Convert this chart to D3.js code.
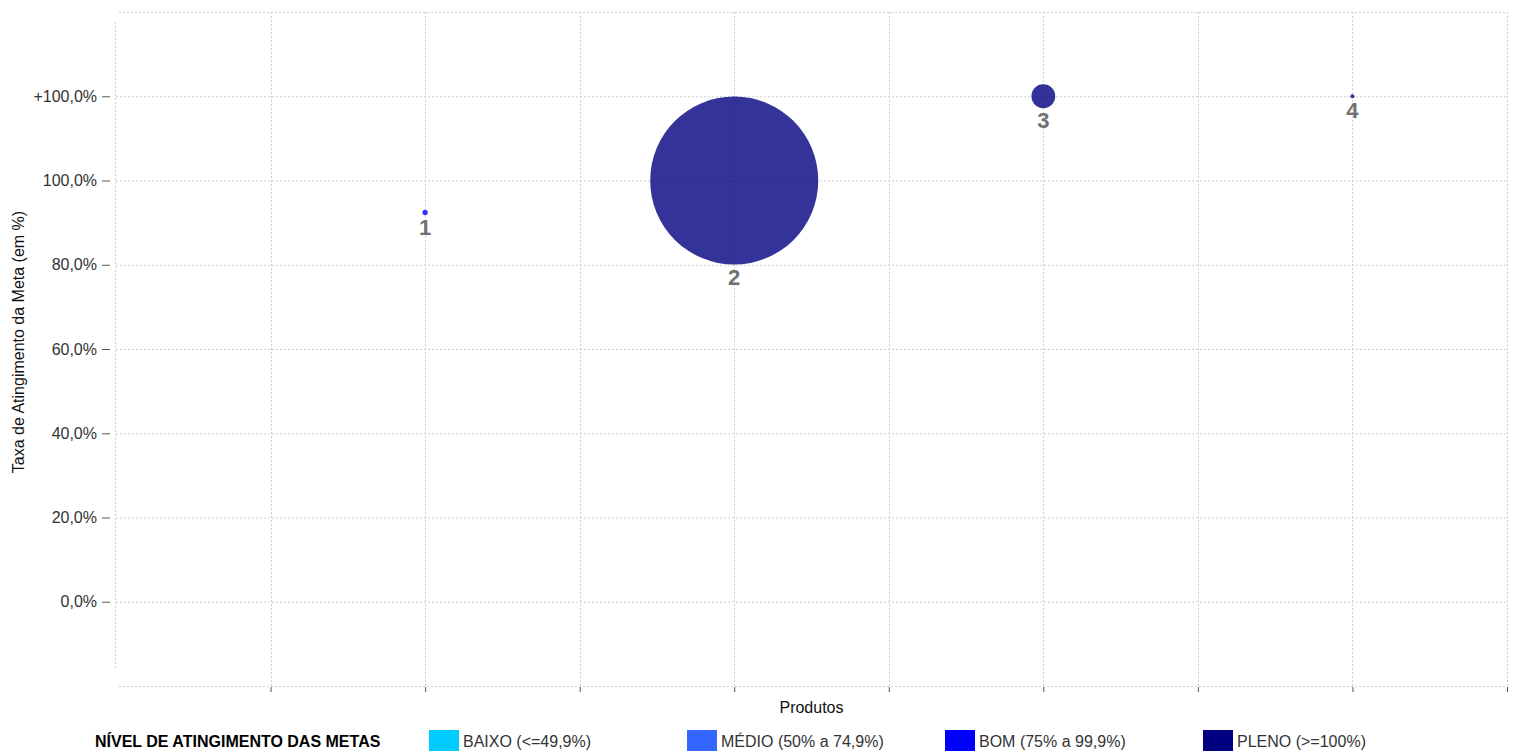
<!DOCTYPE html>
<html><head><meta charset="utf-8">
<script src="https://cdn.jsdelivr.net/npm/d3@7"></script>
<style>
html,body{margin:0;padding:0;background:#fff;}
svg{display:block;font-family:"Liberation Sans",Arial,sans-serif;}
</style></head>
<body>
<script>
// ---- data ----
const products = ["1", "2", "3", "4"];
const productPos = [1, 2, 3, 4];
// rate as plotted (values above 100% are shown on the "+100,0%" line)
const rates = [92.4, 100, 120, 120];
const sizes = [0.1, 100, 2, 0.06];
const yTicks = [0, 20, 40, 60, 80, 100, 120];
const yTickLabels = ["0,0%", "20,0%", "40,0%", "60,0%", "80,0%", "100,0%", "+100,0%"];
const xGrid = [0.5, 1, 1.5, 2, 2.5, 3, 3.5, 4, 4.5];
const levelNames = ["BAIXO (<=49,9%)", "MÉDIO (50% a 74,9%)", "BOM (75% a 99,9%)", "PLENO (>=100%)"];
const levelColors = ["#00ccff", "#3366ff", "#0000ff", "#000080"];
const levelThresholds = [50, 75, 100];

const W = 1518, H = 751;
const m = {left: 116, right: 11, top: 12, bottom: 65};
const svg = d3.select("body").append("svg").attr("width", W).attr("height", H);

const x = d3.scaleLinear().domain([0, 4.5]).range([m.left, W - m.right]);
const y = d3.scaleLinear().domain([-20, 140]).range([H - m.bottom, m.top]);
const r = d3.scaleSqrt().domain([0, d3.max(sizes)]).range([0, 84]);
const level = d3.scaleThreshold().domain(levelThresholds).range(levelColors);

const gridColor = "#cfcfcf";
const dash = "2,2";

// horizontal grid
const hLines = [-20].concat(yTicks, [140]);
svg.append("g").selectAll("line").data(hLines).join("line")
  .attr("x1", d => (d === 140 || d === -20) ? m.left + 3 : m.left).attr("x2", W - m.right)
  .attr("y1", d => y(d) + 0.5).attr("y2", d => y(d) + 0.5)
  .attr("stroke", gridColor).attr("stroke-dasharray", dash);

// vertical grid
svg.append("g").selectAll("line").data(xGrid).join("line")
  .attr("x1", d => Math.round(x(d)) + 0.5).attr("x2", d => Math.round(x(d)) + 0.5)
  .attr("y1", y(140)).attr("y2", y(-20))
  .attr("stroke", gridColor).attr("stroke-dasharray", dash);

// y axis line (dotted)
svg.append("line")
  .attr("x1", m.left - 0.5).attr("x2", m.left - 0.5)
  .attr("y1", y(140) + 10).attr("y2", y(-20) - 16)
  .attr("stroke", gridColor).attr("stroke-dasharray", dash);

// y ticks
const yAxis = d3.axisLeft(y).tickValues(yTicks)
  .tickFormat((d, i) => yTickLabels[i]).tickSize(8).tickPadding(5);
const gy = svg.append("g").attr("transform", `translate(${m.left - 6},0)`).call(yAxis);
gy.select(".domain").remove();
gy.selectAll(".tick line").attr("stroke", "#555");
gy.selectAll(".tick text").attr("fill", "#333").style("font-size", "16px")
  .style("font-family", "'Liberation Sans',Arial,sans-serif");

// x ticks
const xAxis = d3.axisBottom(x).tickValues(xGrid).tickFormat("").tickSize(5);
const gx = svg.append("g").attr("transform", `translate(0,${y(-20) + 1})`).call(xAxis);
gx.select(".domain").remove();
gx.selectAll(".tick line").attr("stroke", "#555");

// axis titles
svg.append("text")
  .attr("transform", `translate(24,342) rotate(-90)`)
  .attr("text-anchor", "middle").attr("fill", "#111").style("font-size", "16px")
  .text("Taxa de Atingimento da Meta (em %)");
svg.append("text")
  .attr("x", (m.left + W - m.right) / 2).attr("y", 713)
  .attr("text-anchor", "middle").attr("fill", "#111").style("font-size", "16px")
  .text("Produtos");

// bubbles
const data = products.map((p, i) => ({name: p, x: productPos[i], y: rates[i], s: sizes[i]}));
svg.append("g").selectAll("circle").data(data).join("circle")
  .attr("cx", d => x(d.x)).attr("cy", d => y(d.y)).attr("r", d => r(d.s))
  .attr("fill", d => level(d.y)).attr("fill-opacity", 0.8);

svg.append("g").selectAll("text").data(data).join("text")
  .attr("x", d => x(d.x)).attr("y", d => y(d.y) + r(d.s) + 20)
  .attr("text-anchor", "middle").attr("fill", "#707070")
  .style("font-size", "22px").style("font-weight", "bold")
  .text(d => d.name);

// legend
svg.append("text").attr("x", 95).attr("y", 747)
  .attr("fill", "#000").style("font-size", "16px").style("font-weight", "bold")
  .text("NÍVEL DE ATINGIMENTO DAS METAS");
const lg = svg.append("g").selectAll("g").data(levelNames).join("g")
  .attr("transform", (d, i) => `translate(${429 + i * 258},730)`);
lg.append("rect").attr("width", 30).attr("height", 30).attr("fill", (d, i) => levelColors[i]);
lg.append("text").attr("x", 34).attr("y", 17).attr("fill", "#333")
  .style("font-size", "16px").text(d => d);
</script>
</body></html>
